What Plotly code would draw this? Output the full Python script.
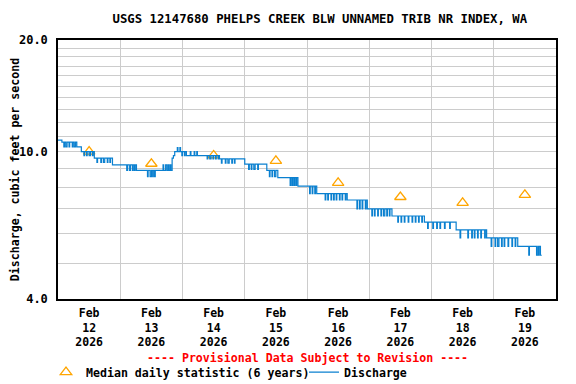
import pandas as pd
import plotly.graph_objects as go

# Discharge change points: hours after 2026-02-12 00:00 and value (cfs)
flow_hours = [
    0.0, 1.5, 2.25, 2.5, 3.0, 3.5, 4.25, 4.5, 5.5, 5.75, 6.25, 6.75, 7.25,
    9.0, 10.0, 10.25, 11.0, 11.25, 12.0, 12.5, 13.25, 13.5,
    14.0, 15.0, 15.25, 16.5, 16.75, 17.5, 18.0, 19.0, 19.25, 20.0, 20.25,
    21.0, 26.5, 26.75, 27.5, 28.0, 28.75, 29.0, 29.5, 29.75,
    30.25, 34.5, 34.75, 35.5, 36.0, 36.5, 36.75, 37.25, 37.5,
    40.5, 40.75, 41.5, 42.0, 42.5, 42.75, 43.25, 43.5,
    44.0, 44.5, 45.0, 46.0, 46.25, 47.0, 47.25, 47.75, 48.0, 48.75, 49.0,
    49.5, 51.0, 51.25, 52.5, 52.75, 53.5, 53.75,
    57.5, 57.75, 58.5, 59.0, 59.75, 60.0, 60.75, 61.0, 61.75, 62.0,
    62.25, 63.0, 63.25, 64.5, 64.75, 65.5, 66.0, 67.0, 67.25, 68.0, 68.25,
    72.0, 73.5, 73.75, 74.5, 74.75, 75.5, 76.0, 77.0, 77.25,
    80.5, 81.5, 81.75, 82.5, 82.75, 83.5, 84.0,
    84.75, 89.5, 89.75, 90.25, 90.5, 91.0, 91.25, 91.75, 92.0,
    92.5, 97.0, 97.25, 98.0, 98.25, 99.0, 99.25,
    99.75, 103.0, 103.25, 104.0, 104.25, 105.25, 105.5, 106.25, 106.5,
    107.25, 107.5, 108.5, 108.75, 109.5, 109.75, 110.75, 111.0,
    111.5, 115.25, 115.5, 116.25, 116.5, 117.25, 117.5, 118.5, 118.75,
    119.25, 121.0, 121.25, 122.0, 122.25, 123.25, 123.5, 124.5, 124.75,
    125.5, 126.0, 126.75, 127.0, 127.75, 128.0,
    128.75, 131.0, 131.25, 132.25, 132.5, 133.5, 133.75, 135.0, 135.25,
    136.5, 136.75, 137.75, 138.0, 139.0, 139.25, 140.25, 140.5,
    141.25, 142.5, 142.75, 144.5, 144.75, 146.0, 146.25, 147.25, 147.5,
    149.0, 149.25, 151.0, 151.25,
    153.5, 155.0, 155.25, 158.0, 158.25, 159.5, 159.75, 160.5, 160.75,
    161.75, 162.0, 163.0, 163.25, 164.5, 164.75,
    165.25, 167.0, 167.25, 168.5, 168.75, 169.5, 170.0, 171.0, 171.25,
    172.0, 172.25, 173.5, 173.75, 175.0, 175.25, 176.25, 176.5,
    177.25, 181.5, 181.75, 184.5, 185.0, 185.25, 185.5, 186.0, 186.5,
]
flow_values = [
    10.74, 10.6, 10.3, 10.6, 10.3, 10.6, 10.3, 10.6, 10.3, 10.6, 10.3, 10.6, 10.3,
    10.0, 9.75, 10.0, 9.75, 10.0, 9.75, 10.0, 9.75, 10.0,
    9.6, 9.35, 9.6, 9.35, 9.6, 9.35, 9.6, 9.35, 9.6, 9.35, 9.6,
    9.2, 8.9, 9.2, 8.9, 9.2, 8.9, 9.2, 8.9, 9.2,
    8.9, 8.55, 8.9, 8.55, 8.9, 8.55, 8.9, 8.55, 8.9,
    9.2, 8.9, 9.2, 8.9, 9.2, 8.9, 9.2, 8.9,
    9.6, 9.75, 10.0, 10.25, 10.0, 10.25, 10.0, 9.75, 10.0, 9.75, 10.0,
    9.75, 10.0, 9.75, 10.0, 9.75, 10.0, 9.75,
    9.55, 9.75, 9.55, 9.75, 9.55, 9.75, 9.55, 9.75, 9.55, 9.75,
    9.55, 9.3, 9.55, 9.3, 9.55, 9.3, 9.55, 9.3, 9.55, 9.3, 9.55,
    9.25, 8.95, 9.25, 8.95, 9.25, 8.95, 9.25, 8.95, 9.25,
    8.9, 8.55, 8.9, 8.55, 8.9, 8.55, 8.9,
    8.5, 8.1, 8.5, 8.1, 8.5, 8.1, 8.5, 8.1, 8.5,
    8.07, 7.7, 8.07, 7.7, 8.07, 7.7, 8.07,
    7.7, 7.4, 7.7, 7.4, 7.7, 7.4, 7.7, 7.4, 7.7,
    7.4, 7.7, 7.4, 7.7, 7.4, 7.7, 7.4, 7.7,
    7.4, 7.0, 7.4, 7.0, 7.4, 7.0, 7.4, 7.0, 7.4,
    7.0, 6.7, 7.0, 6.7, 7.0, 6.7, 7.0, 6.7, 7.0,
    6.7, 7.0, 6.7, 7.0, 6.7, 7.0,
    6.7, 6.45, 6.7, 6.45, 6.7, 6.45, 6.7, 6.45, 6.7,
    6.45, 6.7, 6.45, 6.7, 6.45, 6.7, 6.45, 6.7,
    6.45, 6.2, 6.45, 6.2, 6.45, 6.2, 6.45, 6.2, 6.45,
    6.2, 6.45, 6.2, 6.45,
    6.15, 5.85, 6.15, 5.85, 6.15, 5.85, 6.15, 5.85, 6.15,
    5.85, 6.15, 5.85, 6.15, 5.85, 6.15,
    5.85, 5.55, 5.85, 5.55, 5.85, 5.55, 5.85, 5.55, 5.85,
    5.55, 5.85, 5.55, 5.85, 5.55, 5.85, 5.55, 5.85,
    5.55, 5.25, 5.55, 5.25, 5.55, 5.25, 5.55, 5.25, 5.25,
]

# Median daily statistic, plotted at noon each day
median_days = ["2026-02-12", "2026-02-13", "2026-02-14", "2026-02-15",
               "2026-02-16", "2026-02-17", "2026-02-18", "2026-02-19"]
median_values = [10.0, 9.27, 9.76, 9.44, 8.23, 7.54, 7.27, 7.64]

tick_labels = ["Feb<br>%s<br>2026" % d[-2:] for d in median_days]

FONT = "DejaVu Sans Mono, monospace"
GRID = "#cccccc"

start = pd.Timestamp("2026-02-12")
flow_times = start + pd.to_timedelta(flow_hours, unit="h")
median_times = pd.to_datetime(median_days) + pd.Timedelta(hours=12)

fig = go.Figure()

fig.add_trace(go.Scatter(
    x=median_times, y=median_values, mode="markers",
    name="Median daily statistic (6 years)",
    marker=dict(symbol="triangle-up-open", size=10, color="#ffa500",
                line=dict(width=1.3, color="#ffa500")),
))

fig.add_trace(go.Scatter(
    x=flow_times, y=flow_values, mode="lines", name="Discharge",
    line=dict(shape="hv", width=1.2, color="#0a80d0"),
))

fig.update_xaxes(
    range=[start, start + pd.Timedelta(days=8)],
    tickvals=median_times, ticktext=tick_labels, ticks="",
    showgrid=False, showline=True, linecolor="black", linewidth=1.5,
    mirror=True, ticklabelstandoff=2, automargin=False,
    minor=dict(dtick=86400000, tick0="2026-02-12", showgrid=True,
               gridcolor=GRID, gridwidth=1, ticks=""),
    tickfont=dict(family=FONT, size=11.5, color="black", weight="bold"),
)

fig.update_yaxes(
    type="log", range=[0.60206, 1.30103],
    tickvals=[4, 10, 20], ticktext=["4.0", "10.0", "20.0"], ticks="",
    showgrid=True, gridcolor=GRID, gridwidth=1,
    showline=True, linecolor="black", linewidth=1.5, mirror=True,
    ticklabelstandoff=6, automargin=False,
    minor=dict(tickvals=[5, 6, 7, 8, 9, 11, 12, 13, 14, 15, 16, 17, 18, 19],
               showgrid=True, gridcolor=GRID, gridwidth=1, ticks=""),
    tickfont=dict(family=FONT, size=12, color="black", weight="bold"),
    title=dict(text="Discharge, cubic feet per second", standoff=0,
               font=dict(family=FONT, size=11.6, color="black", weight="bold")),
)

fig.add_annotation(
    text="---- Provisional Data Subject to Revision ----",
    xref="paper", yref="paper", x=0.5, y=-0.228, showarrow=False,
    yanchor="middle",
    font=dict(family=FONT, size=11.6, color="red", weight="bold"),
)

# the page body adds an 8px offset, so the figure is 568x376
fig.update_layout(
    width=568, height=376,
    margin=dict(l=50, r=20, t=32, b=85, autoexpand=False),
    paper_bgcolor="white", plot_bgcolor="white",
    title=dict(text="USGS 12147680 PHELPS CREEK BLW UNNAMED TRIB NR INDEX, WA",
               x=0.549, xanchor="center", y=0.9707, yanchor="middle",
               font=dict(family=FONT, size=12.3, color="black", weight="bold")),
    legend=dict(orientation="h", x=(46 - 58) / 498, xanchor="left", y=-0.282,
                yanchor="middle", itemwidth=30, entrywidth=213,
                entrywidthmode="pixels",
                font=dict(family=FONT, size=11.6, color="black", weight="bold")),
    font=dict(family=FONT),
)

fig.write_html("out.html")
